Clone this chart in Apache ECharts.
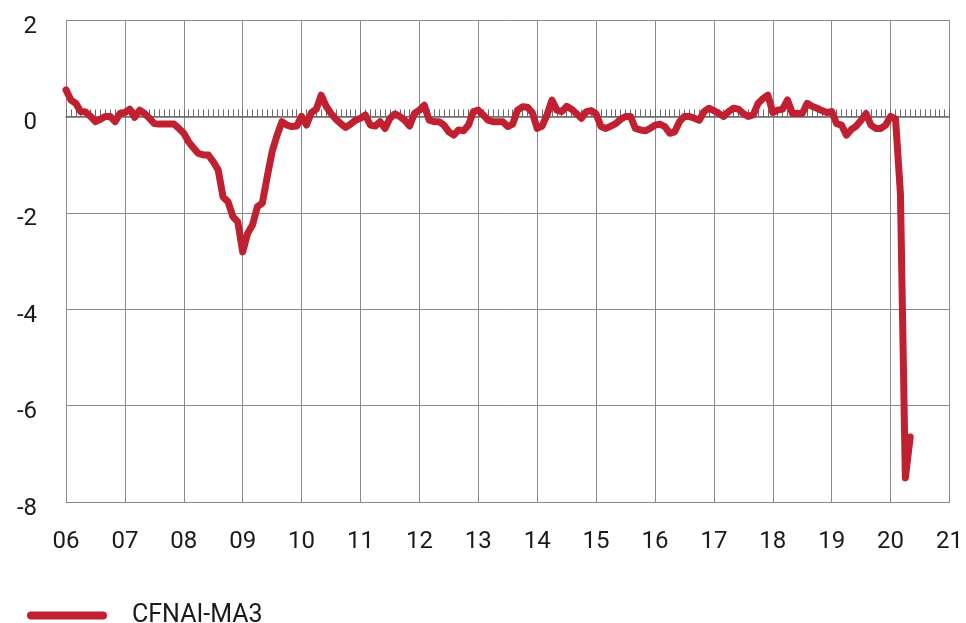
<!DOCTYPE html>
<html>
<head>
<meta charset="utf-8">
<script src="https://cdn.jsdelivr.net/npm/echarts@6/dist/echarts.min.js"></script>
<style>
  html, body { margin: 0; padding: 0; background: #fff; }
  #chart { width: 966px; height: 623px; }
</style>
</head>
<body>
<div id="chart"></div>
<script>
// year tick labels, one per January
const yearLabels = ['06', '07', '08', '09', '10', '11', '12', '13', '14', '15', '16', '17', '18', '19', '20', '21']

// CFNAI-MA3, monthly, Jan 2006 .. May 2020
const cfnai2006 = [0.55, 0.34, 0.27, 0.10, 0.09, 0.00, -0.11, -0.06, 0.00, 0.00, -0.11, 0.06]
const cfnai2007 = [0.08, 0.15, -0.02, 0.13, 0.06, -0.04, -0.15, -0.16, -0.16, -0.16, -0.16, -0.25]
const cfnai2008 = [-0.35, -0.53, -0.66, -0.77, -0.80, -0.80, -0.94, -1.11, -1.67, -1.77, -2.08, -2.19]
const cfnai2009 = [-2.81, -2.43, -2.25, -1.87, -1.80, -1.25, -0.73, -0.39, -0.11, -0.18, -0.21, -0.20]
const cfnai2010 = [0.00, -0.18, 0.08, 0.15, 0.44, 0.21, 0.06, -0.06, -0.15, -0.23, -0.16, -0.08]
const cfnai2011 = [-0.04, 0.03, -0.18, -0.20, -0.11, -0.25, -0.04, 0.05, 0.00, -0.08, -0.20, 0.06]
const cfnai2012 = [0.13, 0.23, -0.08, -0.11, -0.11, -0.18, -0.32, -0.39, -0.28, -0.30, -0.18, 0.10]
const cfnai2013 = [0.13, 0.03, -0.08, -0.11, -0.11, -0.11, -0.21, -0.16, 0.13, 0.20, 0.19, 0.08]
const cfnai2014 = [-0.25, -0.20, 0.03, 0.34, 0.13, 0.10, 0.21, 0.15, 0.06, -0.04, 0.10, 0.12]
const cfnai2015 = [0.05, -0.21, -0.25, -0.20, -0.15, -0.06, 0.00, 0.00, -0.25, -0.28, -0.30, -0.25]
const cfnai2016 = [-0.18, -0.16, -0.21, -0.35, -0.32, -0.11, 0.00, 0.00, -0.04, -0.08, 0.10, 0.17]
const cfnai2017 = [0.12, 0.06, 0.00, 0.10, 0.17, 0.15, 0.06, 0.00, 0.03, 0.27, 0.37, 0.44]
const cfnai2018 = [0.08, 0.13, 0.15, 0.34, 0.06, 0.06, 0.06, 0.27, 0.21, 0.17, 0.12, 0.08]
const cfnai2019 = [0.10, -0.15, -0.18, -0.39, -0.27, -0.20, -0.08, 0.06, -0.18, -0.25, -0.25, -0.18]
const cfnai2020 = [0.00, -0.05, -1.60, -7.50, -6.65]

const cfnai = [].concat(cfnai2006, cfnai2007, cfnai2008, cfnai2009, cfnai2010, cfnai2011,
  cfnai2012, cfnai2013, cfnai2014, cfnai2015, cfnai2016, cfnai2017, cfnai2018, cfnai2019, cfnai2020)

// monthly categories built from the year labels, ending at Jan 21
const months = []
yearLabels.forEach((y, i) => {
  const n = i === yearLabels.length - 1 ? 1 : 12
  for (let m = 1; m <= n; m++) months.push(y + '-' + (m < 10 ? '0' + m : m))
})

const red = '#c0202f'
const gridGrey = '#8a8a8a'
const font = 'Roboto, "DejaVu Sans", sans-serif'

const chart = echarts.init(document.getElementById('chart'))
chart.setOption({
  animation: false,
  backgroundColor: '#fff',
  grid: { left: 66, right: 10, top: 20, bottom: 121 },
  legend: {
    left: 22,
    top: 598,
    itemWidth: 80,
    itemHeight: 8,
    icon: 'path://M4,0 H76 A4,4 0 0 1 76,8 H4 A4,4 0 0 1 4,0 Z',
    textStyle: { fontFamily: font, fontSize: 25, color: '#1a1a1a', padding: [4, 0, 0, 20] },
    data: ['CFNAI-MA3']
  },
  xAxis: [{
    type: 'category',
    data: months,
    boundaryGap: false,
    position: 'bottom',
    axisLine: { onZero: false, lineStyle: { color: gridGrey, width: 1 } },
    axisTick: { show: false },
    axisLabel: {
      interval: (idx) => idx % 12 === 0,
      formatter: (v) => v.slice(0, 2),
      margin: 28,
      fontFamily: font,
      fontSize: 24,
      color: '#1a1a1a'
    },
    splitLine: {
      show: true,
      interval: (idx) => idx % 12 === 0,
      lineStyle: { color: gridGrey, width: 1 }
    }
  }, {
    type: 'category',
    data: months,
    boundaryGap: false,
    position: 'top',
    axisLine: { show: true, onZero: true, lineStyle: { color: '#6a6a6a', width: 1.5 } },
    axisTick: { show: true, interval: 0, inside: false, length: 7, lineStyle: { color: '#6a6a6a', width: 1 } },
    axisLabel: { show: false },
    splitLine: { show: false }
  }],
  yAxis: {
    type: 'value',
    min: -8,
    max: 2,
    interval: 2,
    axisLine: { show: false },
    axisTick: { show: false },
    axisLabel: {
      margin: 29,
      formatter: '{v|{value}}',
      rich: {
        v: { fontFamily: font, fontSize: 24, color: '#1a1a1a', padding: [13, 0, 0, 0] }
      }
    },
    splitLine: { lineStyle: { color: gridGrey, width: 1 } }
  },
  series: [{
    name: 'CFNAI-MA3',
    type: 'line',
    xAxisIndex: 0,
    data: cfnai,
    symbol: 'none',
    color: red,
    itemStyle: { color: red },
    lineStyle: { color: red, width: 7, cap: 'round', join: 'round' },
    z: 5
  }]
})
</script>
</body>
</html>
